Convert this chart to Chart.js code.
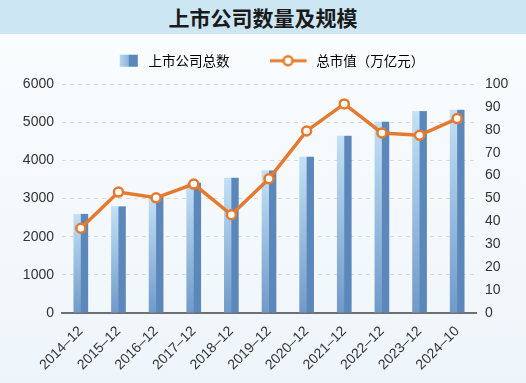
<!DOCTYPE html>
<html>
<head>
<meta charset="utf-8">
<script src="https://cdn.jsdelivr.net/npm/chart.js@4.4.0/dist/chart.umd.min.js"></script>
<style>
  html, body { margin: 0; padding: 0; }
  body {
    width: 526px; height: 383px; position: relative; overflow: hidden;
    background: linear-gradient(#fbfdfe, #eef5fa);
    font-family: "Noto Sans CJK SC", sans-serif;
  }
  .band {
    position: absolute; left: 0; top: 0; width: 526px; height: 34px;
    background: #cde6f3; color: #1a1a1a;
    text-align: center; line-height: 34px; font-size: 21px; font-weight: bold;
  }
  .wrap { position: absolute; left: 0; top: 0; width: 526px; height: 383px; }
</style>
</head>
<body>
<div class="band">上市公司数量及规模</div>
<div class="wrap"><canvas id="canvas" width="526" height="383"></canvas></div>
<script>
const periods = ["2014–12", "2015–12", "2016–12", "2017–12", "2018–12", "2019–12",
	"2020–12", "2021–12", "2022–12", "2023–12", "2024–10"];
const companyCounts = [2600, 2800, 3050, 3420, 3550, 3740, 4100, 4650, 5020, 5290, 5330];
const marketValues = [37.0, 52.8, 50.3, 56.3, 42.9, 58.6, 79.5, 91.3, 78.6, 77.6, 84.9];
const countAxis = { max: 6000, step: 1000 };
const valueAxis = { max: 100, step: 10 };
const seriesNames = ["上市公司总数", "总市值（万亿元）"];

const ORANGE = "#e57a2e";
const BAR_DARK = "#5b87ba";
const barShare = 0.39;
const numFont = { family: "'Liberation Sans', Arial, sans-serif", size: 14 };

// each bar: light gradient on the left half, flat dark blue on the right
function barFill(c) {
	const chart = c.chart;
	const area = chart.chartArea;
	const xs = chart.scales.x;
	const ys = chart.scales.y;
	if (!area || !xs || !ys || c.type !== "data") return BAR_DARK;
	const half = Math.ceil((xs.width / periods.length) * barShare / 2) + 1;
	const top = ys.getPixelForValue(c.raw);
	const h = Math.max(1, Math.ceil(area.bottom - top) + 1);
	const tile = document.createElement("canvas");
	tile.width = half * 2;
	tile.height = h;
	const t = tile.getContext("2d");
	const g = t.createLinearGradient(0, 0, 0, h);
	g.addColorStop(0, "#c3e1f5");
	g.addColorStop(1, "#7099c9");
	t.fillStyle = g;
	t.fillRect(0, 0, half, h);
	t.fillStyle = BAR_DARK;
	t.fillRect(half, 0, half, h);
	const p = chart.ctx.createPattern(tile, "no-repeat");
	p.setTransform(new DOMMatrix().translate(xs.getPixelForValue(c.dataIndex) - half, top));
	return p;
}

function legendIcon(kind) {
	const c = document.createElement("canvas");
	c.width = 40;
	c.height = 14;
	const g = c.getContext("2d");
	if (kind === "bar") {
		const l = 18, w = 18, top = 1, h = 12;
		const gr = g.createLinearGradient(l, 0, l + w, 0);
		gr.addColorStop(0, "#b7d6ee");
		gr.addColorStop(0.5, "#8fb3da");
		gr.addColorStop(0.5, BAR_DARK);
		gr.addColorStop(1, BAR_DARK);
		g.fillStyle = gr;
		g.fillRect(l, top, w, h);
	} else {
		g.strokeStyle = ORANGE;
		g.lineWidth = 3;
		g.beginPath();
		g.moveTo(0, 7);
		g.lineTo(37, 7);
		g.stroke();
		g.beginPath();
		g.arc(18.5, 7, 4.5, 0, Math.PI * 2);
		g.fillStyle = "#fff";
		g.fill();
		g.lineWidth = 2.5;
		g.stroke();
	}
	return c;
}
const icons = [legendIcon("bar"), legendIcon("line")];

// extra room between the legend row and the plot
const legendGap = {
	id: "legendGap",
	afterInit(chart) {
		const fit = chart.legend.fit;
		chart.legend.fit = function () {
			fit.call(this);
			this.height += 6.5;
		};
	},
};

new Chart(document.getElementById("canvas"), {
	type: "bar",
	data: {
		labels: periods,
		datasets: [
			{
				label: seriesNames[0],
				data: companyCounts,
				yAxisID: "y",
				backgroundColor: barFill,
				categoryPercentage: barShare,
				barPercentage: 1,
				order: 2,
			},
			{
				label: seriesNames[1],
				type: "line",
				data: marketValues,
				yAxisID: "y1",
				borderColor: ORANGE,
				borderWidth: 3.5,
				pointRadius: 4.5,
				pointBorderWidth: 2.5,
				pointBackgroundColor: "#fff",
				pointBorderColor: ORANGE,
				tension: 0,
				order: 1,
			},
		],
	},
	options: {
		responsive: false,
		animation: false,
		devicePixelRatio: 1,
		layout: { padding: { top: 14, left: 0, right: 0, bottom: 0 } },
		plugins: {
			tooltip: { enabled: false },
			legend: {
				display: true,
				position: "top",
				labels: {
					usePointStyle: true,
					pointStyleWidth: 40,
					padding: 40,
					color: "#333",
					font: { family: "'Noto Sans CJK SC', sans-serif", size: 13.5 },
					generateLabels: () => seriesNames.map((name, i) => ({
						text: name,
						pointStyle: icons[i],
						fillStyle: "transparent",
						strokeStyle: "transparent",
						lineWidth: 0,
						datasetIndex: i,
						hidden: false,
					})),
				},
			},
		},
		scales: {
			x: {
				grid: { display: false },
				border: { display: true, color: "#707070", width: 2 },
				ticks: {
					color: "#333",
					font: numFont,
					minRotation: 45,
					maxRotation: 45,
					padding: 2,
				},
				afterFit: (s) => { s.height = 70; },
			},
			y: {
				position: "left",
				min: 0,
				max: countAxis.max,
				ticks: {
					stepSize: countAxis.step,
					color: "#333",
					font: numFont,
					padding: 8,
					callback: (v) => String(v),
				},
				grid: { color: "#d3d9df", lineWidth: 1, drawTicks: false },
				border: { display: false, dash: [4, 4] },
				afterFit: (s) => { s.width = 62; },
			},
			y1: {
				position: "right",
				min: 0,
				max: valueAxis.max,
				ticks: {
					stepSize: valueAxis.step,
					color: "#333",
					font: numFont,
					padding: 9,
					callback: (v) => String(v),
				},
				grid: { display: false, drawTicks: false },
				border: { display: false },
				afterFit: (s) => { s.width = 50; },
			},
		},
	},
	plugins: [legendGap],
});
</script>
</body>
</html>
